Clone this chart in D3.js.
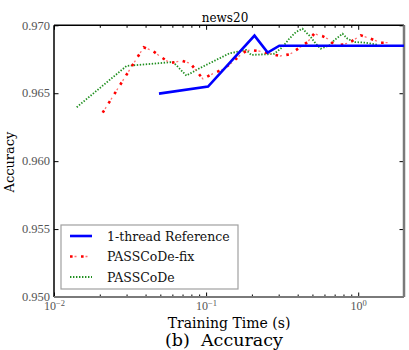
<!DOCTYPE html>
<html>
<head>
<meta charset="utf-8">
<script src="https://cdn.jsdelivr.net/npm/d3@7"></script>
<style>
  body { margin: 0; background: #fff; }
  text { font-family: "DejaVu Serif", serif; }
  .tick-lbl text { font-family: "Liberation Serif", serif; fill: #555; }
</style>
</head>
<body>
<div id="chart"></div>
<script>
// --- data ---
const refTime = [0.049, 0.103, 0.208, 0.254, 0.303, 2.0];
const refAcc  = [0.96497, 0.96549, 0.96924, 0.96799, 0.9685, 0.9685];

const fixTime = [0.0209, 0.0389, 0.0444, 0.0508, 0.0582, 0.0688, 0.0788, 0.0953, 0.1108, 0.129, 0.146, 0.166,
                 0.183, 0.193, 0.224, 0.255, 0.307, 0.356, 0.465, 0.513, 0.58, 0.63, 0.71, 0.81, 0.9, 1.04, 1.21, 1.41, 1.67];
const fixAcc  = [0.96357, 0.96838, 0.96813, 0.96765, 0.96721, 0.9674, 0.9672, 0.96605, 0.96644, 0.96676, 0.9672, 0.96776,
                 0.96811, 0.96818, 0.9681, 0.96795, 0.96774, 0.96787, 0.96877, 0.96938, 0.96921, 0.969, 0.9685, 0.9686, 0.9688, 0.96926, 0.96901, 0.96872, 0.96872];

const pasTime = [0.0141, 0.030, 0.0606, 0.0742, 0.0906, 0.1166, 0.1426, 0.1834, 0.198, 0.254, 0.281, 0.318, 0.352, 0.39,
                 0.43, 0.487, 0.526, 0.567, 0.646, 0.696, 0.789, 0.851, 0.942, 1.12, 1.34];
const pasAcc  = [0.96397, 0.96701, 0.9673, 0.9663, 0.96684, 0.96745, 0.96794, 0.96818, 0.96782, 0.96787, 0.96791, 0.9684, 0.96901, 0.96951,
                 0.96975, 0.96914, 0.96865, 0.96828, 0.96853, 0.9689, 0.96938, 0.96901, 0.96877, 0.96872, 0.96857];

const yTicks = [0.950, 0.955, 0.960, 0.965, 0.970];
const xMajor = [0.01, 0.1, 1];
const xExp = ["−2", "−1", "0"];
const seriesNames = ["1-thread Reference", "PASSCoDe-fix", "PASSCoDe"];

// --- sizing ---
const W = 409, H = 350;
const margin = { top: 25.3, left: 54, right: 5, bottom: 53 };
const width = W - margin.left - margin.right;
const height = H - margin.top - margin.bottom;

const x = d3.scaleLog().domain([0.01, 2]).range([0, width]);
const y = d3.scaleLinear().domain([0.950, 0.970]).range([height, 0]);

const svg = d3.select("#chart").append("svg")
  .attr("width", W).attr("height", H);

const g = svg.append("g")
  .attr("transform", `translate(${margin.left},${margin.top})`);

// minor log ticks 2..9 in each decade
const xMinor = [];
[0.01, 0.1, 1].forEach(d => { for (let k = 2; k <= 9; k++) if (d * k <= 2) xMinor.push(d * k); });

// --- axes (ticks point inward) ---
const gx = g.append("g").attr("class", "tick-lbl")
  .attr("transform", `translate(0,${height})`)
  .call(d3.axisBottom(x).tickValues(xMajor).tickSize(-4.5).tickPadding(4.5).tickFormat(""));
gx.selectAll(".tick text").each(function(d, i) {
  const t = d3.select(this).attr("font-size", 12).attr("dy", "0.71em");
  t.append("tspan").text("10");
  t.append("tspan").attr("font-size", 8.5).attr("dy", "-0.45em").text(xExp[i]);
});
g.append("g").attr("transform", `translate(0,${height})`)
  .call(d3.axisBottom(x).tickValues(xMinor).tickSize(-2.5).tickFormat(""));
g.append("g")
  .call(d3.axisTop(x).tickValues(xMajor).tickSize(-4.5).tickFormat(""));
g.append("g")
  .call(d3.axisTop(x).tickValues(xMinor).tickSize(-2.5).tickFormat(""));

g.append("g").attr("class", "tick-lbl")
  .call(d3.axisLeft(y).tickValues(yTicks).tickSize(-4.5).tickPadding(4).tickFormat(d3.format(".3f")))
  .selectAll(".tick text").attr("font-size", 12.5).attr("dy", "0.3em");
g.append("g").attr("transform", `translate(${width},0)`)
  .call(d3.axisRight(y).tickValues(yTicks).tickSize(-4.5).tickFormat(""));

g.selectAll(".domain").remove();
g.selectAll(".tick line").attr("stroke", "#000").attr("stroke-width", 1);

// spines: left/top black, bottom/right gray
g.append("line").attr("x1", 0).attr("x2", 0).attr("y1", 0).attr("y2", height)
  .attr("stroke", "#000").attr("stroke-width", 1.5);
g.append("line").attr("x1", 0).attr("x2", width).attr("y1", 0).attr("y2", 0)
  .attr("stroke", "#000").attr("stroke-width", 1.5);
g.append("line").attr("x1", 0).attr("x2", width).attr("y1", height).attr("y2", height)
  .attr("stroke", "#7a7a7a").attr("stroke-width", 2);
g.append("line").attr("x1", width).attr("x2", width).attr("y1", 0).attr("y2", height)
  .attr("stroke", "#7a7a7a").attr("stroke-width", 2.5);

// --- lines ---
const line = d3.line().x(d => x(d[0])).y(d => y(d[1]));
const zip = (a, b) => a.map((v, i) => [v, b[i]]);

const plot = g.append("g");
plot.append("path").datum(zip(pasTime, pasAcc))
  .attr("fill", "none").attr("stroke", "#1f8f1f").attr("stroke-width", 1.8)
  .attr("stroke-dasharray", "1.4,1.6").attr("d", line);

plot.append("path").datum(zip(fixTime, fixAcc))
  .attr("fill", "none").attr("stroke", "#ff7070").attr("stroke-width", 1.3)
  .attr("stroke-dasharray", "0,4.5,2,4.5").attr("d", line);
plot.append("path").datum(zip(fixTime, fixAcc))
  .attr("fill", "none").attr("stroke", "#ff0000").attr("stroke-width", 2.6)
  .attr("stroke-dasharray", "2.6,8.4").attr("d", line);

plot.append("path").datum(zip(refTime, refAcc))
  .attr("fill", "none").attr("stroke", "#0000ff").attr("stroke-width", 2.6)
  .attr("d", line);

// --- legend ---
const leg = svg.append("g").attr("transform", "translate(61,225)");
leg.append("rect").attr("width", 177).attr("height", 64)
  .attr("fill", "#fff").attr("stroke", "#a0a0a0").attr("stroke-width", 1.2);
const ly = [11, 31.5, 52];
leg.append("line").attr("x1", 9).attr("x2", 31).attr("y1", ly[0]).attr("y2", ly[0])
  .attr("stroke", "#0000ff").attr("stroke-width", 2.6);
leg.append("line").attr("x1", 9).attr("x2", 31).attr("y1", ly[1]).attr("y2", ly[1])
  .attr("stroke", "#ff7070").attr("stroke-width", 1.3).attr("stroke-dasharray", "0,4.5,2,4.5");
leg.append("line").attr("x1", 9).attr("x2", 31).attr("y1", ly[1]).attr("y2", ly[1])
  .attr("stroke", "#ff0000").attr("stroke-width", 2.6).attr("stroke-dasharray", "2.6,8.4");
leg.append("line").attr("x1", 9).attr("x2", 31).attr("y1", ly[2]).attr("y2", ly[2])
  .attr("stroke", "#1f8f1f").attr("stroke-width", 1.8).attr("stroke-dasharray", "1.4,1.6");
leg.selectAll("text.lbl").data(seriesNames).enter().append("text")
  .attr("class", "lbl").attr("x", 46).attr("y", (d, i) => ly[i] + 4.5)
  .attr("font-size", 12.5).attr("fill", "#111").text(d => d);

// --- titles ---
svg.append("text").attr("x", 225).attr("y", 21.5).attr("text-anchor", "middle")
  .attr("font-size", 12).text("news20");
svg.append("text").attr("x", 229).attr("y", 328).attr("text-anchor", "middle")
  .attr("font-size", 14).text("Training Time (s)");
svg.append("text").attr("x", 224).attr("y", 346).attr("text-anchor", "middle")
  .attr("font-size", 17.5).attr("xml:space", "preserve").text("(b)  Accuracy");
svg.append("text").attr("transform", "translate(14,162) rotate(-90)")
  .attr("text-anchor", "middle").attr("font-size", 13).text("Accuracy");
</script>
</body>
</html>
